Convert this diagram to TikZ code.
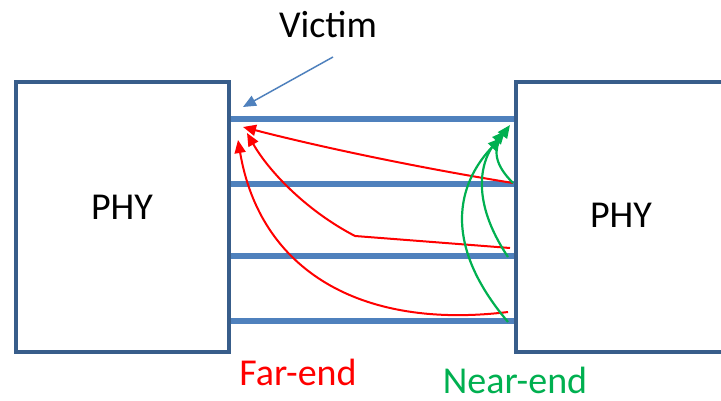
\documentclass[tikz,border=0pt]{standalone}
\usepackage{fontspec}
\setmainfont{Carlito}
\usetikzlibrary{arrows.meta}
\definecolor{boxc}{HTML}{385D8A}
\definecolor{barc}{HTML}{4F81BD}
\definecolor{redc}{HTML}{FF0000}
\definecolor{greenc}{HTML}{00B050}
\tikzset{
  phybox/.style={draw=boxc, line width=3.5pt},
  wire/.style={draw=barc, line width=6.5pt},
  lbl/.style={anchor=base, inner sep=0pt, font=\fontsize{38}{45}\selectfont},
  redarr/.style={draw=redc, line width=2pt, -{Triangle[length=13pt,width=11pt]}},
  greenarr/.style={draw=greenc, line width=2.2pt, -{Triangle[length=13pt,width=11pt]}},
  bluearr/.style={draw=barc, line width=1.5pt, -{Triangle[length=13pt,width=11pt]}}
}
\begin{document}
\begin{tikzpicture}[x=1pt,y=-1pt]
\useasboundingbox (0,0) rectangle (721,401);
\fill[white] (0,0) rectangle (721,401);
% wires
\coordinate (w1a) at (230,119); \coordinate (w1b) at (516,119);
\coordinate (w2a) at (230,184); \coordinate (w2b) at (516,184);
\coordinate (w3a) at (230,256); \coordinate (w3b) at (516,256);
\coordinate (w4a) at (230,321); \coordinate (w4b) at (516,321);
\draw[wire] (w1a) -- (w1b);
\draw[wire] (w2a) -- (w2b);
\draw[wire] (w3a) -- (w3b);
\draw[wire] (w4a) -- (w4b);
% boxes
\draw[phybox] (16,82) rectangle (229,352);
\draw[phybox] (725,82) -- (516,82) -- (516,352) -- (725,352);
\node[lbl] (phyl) at (122,220) {PHY};
\node[lbl] (phyr) at (621,228) {PHY};
% labels
\node[lbl] (victim) at (328,38) {Victim};
\node[lbl, text=redc] (far) at (298,385) {Far-end};
\node[lbl, text=greenc] (near) at (515,393) {Near-end};
% blue pointer
\coordinate (vs) at (333,57);
\coordinate (vt) at (243,107);
\draw[bluearr] (vs) -- (vt);
% red far-end arrows
\coordinate (r1s) at (513,183); \coordinate (r1t) at (243,127);
\coordinate (r2s) at (510,248); \coordinate (r2k) at (355,236); \coordinate (r2t) at (247,133);
\coordinate (r3s) at (508,312); \coordinate (r3t) at (238,140);
\draw[redarr] (r1s) .. controls (420,168) and (320,147) .. (r1t);
\draw[redarr] (r2s) -- (r2k) .. controls (305,210) and (268,170) .. (r2t);
\draw[redarr] (r3s) .. controls (360,330) and (260,270) .. (r3t);
% green near-end arrows
\coordinate (g1s) at (513,183); \coordinate (g1t) at (510,125);
\coordinate (g2s) at (508,257); \coordinate (g2t) at (505,131);
\coordinate (g3s) at (508,322); \coordinate (g3t) at (501,138);
\draw[greenarr] (g1s) .. controls (495,165) and (492,150) .. (g1t);
\draw[greenarr] (g2s) .. controls (470,200) and (480,160) .. (g2t);
\draw[greenarr] (g3s) .. controls (430,230) and (470,170) .. (g3t);
\end{tikzpicture}
\end{document}
